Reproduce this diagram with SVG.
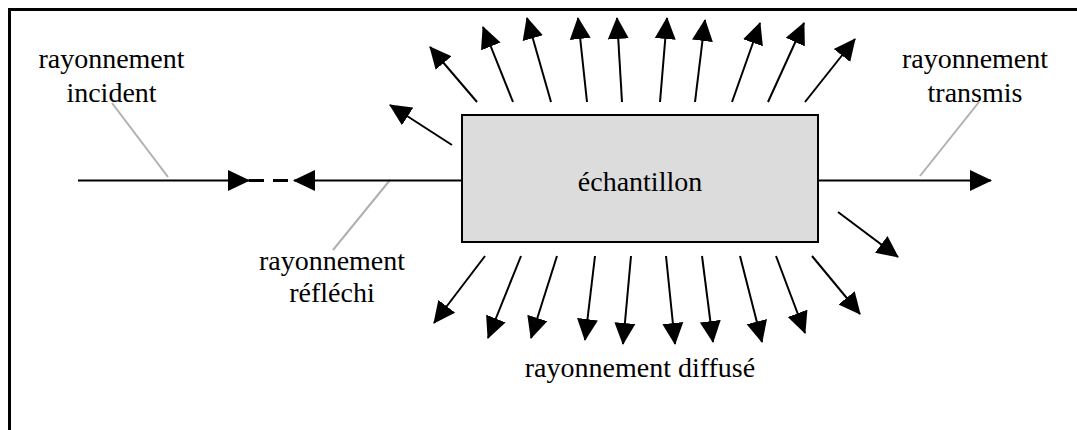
<svg xmlns="http://www.w3.org/2000/svg" width="1077" height="430" viewBox="0 0 1077 430">
<defs>
<style>
.t{font-family:"Liberation Serif","Times New Roman",serif;font-size:28px;fill:#000;text-anchor:middle}
.a{stroke:#000;stroke-width:2;fill:none;marker-end:url(#ah)}
.l{stroke:#000;stroke-width:3;fill:none}
.g{stroke:#b0b0b0;stroke-width:2;fill:none}
</style>
<marker id="ah" markerUnits="userSpaceOnUse" markerWidth="22" markerHeight="22" refX="21" refY="11" orient="auto" viewBox="0 0 22 22">
<path d="M0,0.5 L22,11 L0,21.5 z" fill="#000"/>
</marker>
</defs>
<rect width="1077" height="430" fill="#fff"/>
<path d="M9.5,430 V9.5 H1077" stroke="#000" stroke-width="3" fill="none"/>
<g id="echantillon">
<rect x="462" y="115" width="356" height="127" fill="#dcdcdc" stroke="#000" stroke-width="2"/>
<text class="t" x="640" y="191">échantillon</text>
</g>
<g id="label-incident">
<text class="t" x="111.5" y="68">rayonnement</text>
<text class="t" x="111.5" y="102">incident</text>
</g>
<g id="label-reflechi">
<text class="t" x="332" y="270">rayonnement</text>
<text class="t" x="332" y="302">réfléchi</text>
</g>
<g id="label-transmis">
<text class="t" x="975" y="68">rayonnement</text>
<text class="t" x="975" y="102">transmis</text>
</g>
<g id="label-diffuse">
<text class="t" x="640" y="377">rayonnement diffusé</text>
</g>
<g id="connectors">
<line class="g" x1="112" y1="103" x2="168" y2="177"/>
<line class="g" x1="390" y1="180" x2="333" y2="250"/>
<line class="g" x1="979" y1="102" x2="920" y2="176"/>
<line class="a" x1="78" y1="180.5" x2="249" y2="180.5"/>
<line class="l" x1="249" y1="180.5" x2="294" y2="180.5" stroke-dasharray="15,9"/>
<line class="a" x1="463" y1="180.5" x2="294" y2="180.5"/>
<line class="a" x1="818" y1="180.5" x2="991" y2="180.5"/>
<line class="a" x1="452" y1="145" x2="390" y2="105"/>
<line class="a" x1="477" y1="102" x2="430" y2="47"/>
<line class="a" x1="513" y1="102" x2="483" y2="27"/>
<line class="a" x1="551" y1="102" x2="527" y2="18"/>
<line class="a" x1="587" y1="102" x2="578" y2="18"/>
<line class="a" x1="622" y1="102" x2="617" y2="18"/>
<line class="a" x1="660" y1="102" x2="667" y2="18"/>
<line class="a" x1="695" y1="102" x2="705" y2="20"/>
<line class="a" x1="732" y1="102" x2="760" y2="23"/>
<line class="a" x1="768" y1="102" x2="804" y2="23"/>
<line class="a" x1="805" y1="102" x2="855" y2="39"/>
<line class="a" x1="838" y1="212" x2="898" y2="257"/>
<line class="a" x1="485" y1="256" x2="434" y2="323"/>
<line class="a" x1="521" y1="256" x2="488" y2="338"/>
<line class="a" x1="557" y1="256" x2="531" y2="338"/>
<line class="a" x1="595" y1="256" x2="585" y2="340"/>
<line class="a" x1="631" y1="256" x2="623" y2="344"/>
<line class="a" x1="666" y1="256" x2="675" y2="344"/>
<line class="a" x1="702" y1="256" x2="713" y2="342"/>
<line class="a" x1="740" y1="256" x2="762" y2="342"/>
<line class="a" x1="776" y1="256" x2="805" y2="333"/>
<line class="a" x1="812" y1="256" x2="860" y2="314"/>
</g>
</svg>
